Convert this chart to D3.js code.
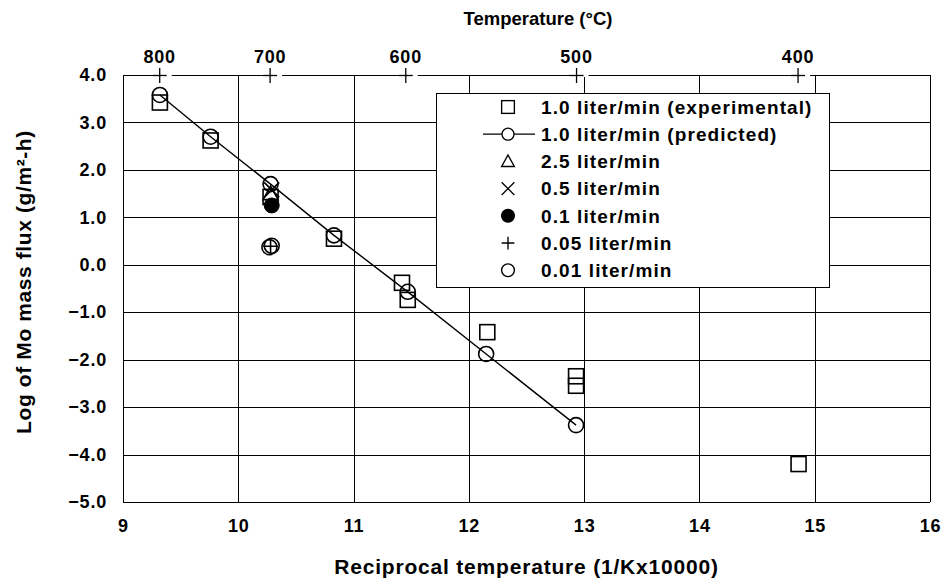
<!DOCTYPE html>
<html>
<head>
<meta charset="utf-8">
<script src="https://cdn.jsdelivr.net/npm/d3@7"></script>
<style>
  html, body { margin: 0; padding: 0; background: #fff; }
  svg { display: block; }
  text { font-family: "Liberation Sans", Arial, sans-serif; font-weight: bold; fill: #000; }
</style>
</head>
<body>
<svg id="chart" width="946" height="586"></svg>
<script>
// ---- data ----
const xTicks = [9, 10, 11, 12, 13, 14, 15, 16];
const yTicks = [4, 3, 2, 1, 0, -1, -2, -3, -4, -5];
const tempTicks = [800, 700, 600, 500, 400];

const expX = [9.32, 9.76, 10.28, 10.83, 11.42, 11.47, 12.16, 12.93, 12.93, 14.86];
const expY = [3.42, 2.62, 1.43, 0.55, -0.38, -0.74, -1.42, -2.35, -2.55, -4.2];

const predX = [9.32, 9.76, 10.28, 10.83, 11.47, 12.15, 12.93];
const predY = [3.58, 2.70, 1.70, 0.62, -0.57, -1.88, -3.38];

const f25X = [10.28];  const f25Y = [1.50];
const f05X = [10.29];  const f05Y = [1.58];
const f01X = [10.29];  const f01Y = [1.25];
const f005X = [10.28]; const f005Y = [0.39];
const f001X = [10.27, 10.29]; const f001Y = [0.37, 0.40];

const legendLabels = [
  "1.0 liter/min (experimental)",
  "1.0 liter/min (predicted)",
  "2.5 liter/min",
  "0.5 liter/min",
  "0.1 liter/min",
  "0.05 liter/min",
  "0.01 liter/min"
];
const legendSymbols = ["square", "lineCircle", "triangle", "x", "filled", "plus", "circle"];

// ---- layout ----
const W = 946, H = 586;
const L = 123, R = 930, T = 75, B = 502;

const svg = d3.select("#chart");
const x = d3.scaleLinear().domain([9, 16]).range([L, R]);
const y = d3.scaleLinear().domain([-5, 4]).range([B, T]);

// gridlines
const g = svg.append("g");
g.selectAll("line.h").data(yTicks).join("line")
  .attr("x1", L).attr("x2", R)
  .attr("y1", d => Math.round(y(d)) + 0.5).attr("y2", d => Math.round(y(d)) + 0.5)
  .attr("stroke", "#000").attr("stroke-width", 1);
g.selectAll("line.v").data(xTicks).join("line")
  .attr("y1", T).attr("y2", B)
  .attr("x1", d => Math.round(x(d)) + 0.5).attr("x2", d => Math.round(x(d)) + 0.5)
  .attr("stroke", "#000").attr("stroke-width", 1);

function styleTicks(sel) {
  sel.selectAll("text")
    .style("font-size", "18px")
    .style("letter-spacing", "0.8px")
    .style("font-family", "Liberation Sans, Arial, sans-serif")
    .style("font-weight", "bold")
    .attr("fill", "#000");
}

// axes (labels only, Excel-like)
const xAxis = d3.axisBottom(x).tickValues(xTicks).tickSize(0).tickPadding(17).tickFormat(d3.format("d"));
const gx = svg.append("g").attr("transform", `translate(0,${B})`).call(xAxis);
gx.select(".domain").remove();
styleTicks(gx);

const yAxis = d3.axisLeft(y).tickValues(yTicks).tickSize(0).tickPadding(16).tickFormat(d3.format(".1f"));
const gy = svg.append("g").attr("transform", `translate(${L},0)`).call(yAxis);
gy.select(".domain").remove();
styleTicks(gy);

// top temperature axis (crosses on the top border)
const tx = t => x(10000 / (t + 273.15));
const topG = svg.append("g");
tempTicks.forEach(t => {
  const cx = tx(t);
  topG.append("rect").attr("x", cx + 6).attr("y", T - 2).attr("width", 6).attr("height", 4).attr("fill", "#fff");
  topG.append("line").attr("x1", cx - 7).attr("x2", cx + 7).attr("y1", T + 0.5).attr("y2", T + 0.5).attr("stroke", "#000").attr("stroke-width", 1.3);
  topG.append("line").attr("x1", cx).attr("x2", cx).attr("y1", T - 7).attr("y2", T + 8).attr("stroke", "#000").attr("stroke-width", 1.3);
  topG.append("text").attr("x", cx).attr("y", T - 12).attr("text-anchor", "middle")
    .style("font-size", "18px").style("letter-spacing", "0.8px").text(t);
});

// predicted line
const lineGen = d3.line().x(d => x(d[0])).y(d => y(d[1]));
svg.append("path").datum(predX.map((d, i) => [d, predY[i]]))
  .attr("d", lineGen).attr("fill", "none").attr("stroke", "#000").attr("stroke-width", 1.4);

// marker drawing
function marker(sel, type, cx, cy) {
  const s = 7.5;
  if (type === "square") {
    sel.append("rect").attr("x", cx - s).attr("y", cy - s).attr("width", 2 * s).attr("height", 2 * s)
      .attr("fill", "none").attr("stroke", "#000").attr("stroke-width", 1.6);
  } else if (type === "circle" || type === "lineCircle") {
    sel.append("circle").attr("cx", cx).attr("cy", cy).attr("r", s)
      .attr("fill", "none").attr("stroke", "#000").attr("stroke-width", 1.6);
  } else if (type === "filled") {
    sel.append("circle").attr("cx", cx).attr("cy", cy).attr("r", s)
      .attr("fill", "#000").attr("stroke", "#000").attr("stroke-width", 1);
  } else if (type === "triangle") {
    sel.append("path").attr("d", `M${cx},${cy - s}L${cx + s},${cy + s * 0.8}L${cx - s},${cy + s * 0.8}Z`)
      .attr("fill", "none").attr("stroke", "#000").attr("stroke-width", 1.6);
  } else if (type === "x") {
    sel.append("path").attr("d", `M${cx - s},${cy - s}L${cx + s},${cy + s}M${cx - s},${cy + s}L${cx + s},${cy - s}`)
      .attr("fill", "none").attr("stroke", "#000").attr("stroke-width", 1.6);
  } else if (type === "plus") {
    sel.append("path").attr("d", `M${cx - s},${cy}L${cx + s},${cy}M${cx},${cy - s}L${cx},${cy + s}`)
      .attr("fill", "none").attr("stroke", "#000").attr("stroke-width", 1.6);
  }
}

const pts = svg.append("g");
expX.forEach((d, i) => marker(pts, "square", x(d), y(expY[i])));
predX.forEach((d, i) => marker(pts, "circle", x(d), y(predY[i])));
f25X.forEach((d, i) => marker(pts, "triangle", x(d), y(f25Y[i])));
f05X.forEach((d, i) => marker(pts, "x", x(d), y(f05Y[i])));
f01X.forEach((d, i) => marker(pts, "filled", x(d), y(f01Y[i])));
f005X.forEach((d, i) => marker(pts, "plus", x(d), y(f005Y[i])));
f001X.forEach((d, i) => marker(pts, "circle", x(d), y(f001Y[i])));

// legend
const lg = svg.append("g");
const lx = 436, ly = 93, lw = 393, lh = 194;
lg.append("rect").attr("x", lx + 0.5).attr("y", ly + 0.5).attr("width", lw).attr("height", lh)
  .attr("fill", "#fff").attr("stroke", "#000").attr("stroke-width", 1);
legendLabels.forEach((lab, i) => {
  const cy = ly + 14 + i * 27.2;
  const sx = 508;
  if (legendSymbols[i] === "lineCircle") {
    lg.append("line").attr("x1", 483).attr("x2", 535).attr("y1", cy).attr("y2", cy).attr("stroke", "#000").attr("stroke-width", 1.3);
    lg.append("circle").attr("cx", sx).attr("cy", cy).attr("r", 6).attr("fill", "#fff").attr("stroke", "#000").attr("stroke-width", 1.3);
  } else {
    const m = lg.append("g");
    marker(m, legendSymbols[i], 0, 0);
    m.attr("transform", `translate(${sx},${cy}) scale(0.85)`);
    m.selectAll("*").attr("stroke-width", 1.6);
  }
  lg.append("text").attr("x", 541).attr("y", cy).attr("dy", "0.36em")
    .style("font-size", "19px").style("letter-spacing", "1.1px").text(lab);
});

// titles
svg.append("text").attr("x", 538).attr("y", 25).attr("text-anchor", "middle")
  .style("font-size", "18.5px").text("Temperature (°C)");
svg.append("text").attr("x", (L + R) / 2).attr("y", 574).attr("text-anchor", "middle")
  .style("font-size", "21px").style("letter-spacing", "0.8px").text("Reciprocal temperature (1/Kx10000)");
svg.append("text").attr("transform", `translate(31,282) rotate(-90)`).attr("text-anchor", "middle")
  .style("font-size", "21px").style("letter-spacing", "0.6px").text("Log of Mo mass flux (g/m²-h)");
</script>
</body>
</html>
